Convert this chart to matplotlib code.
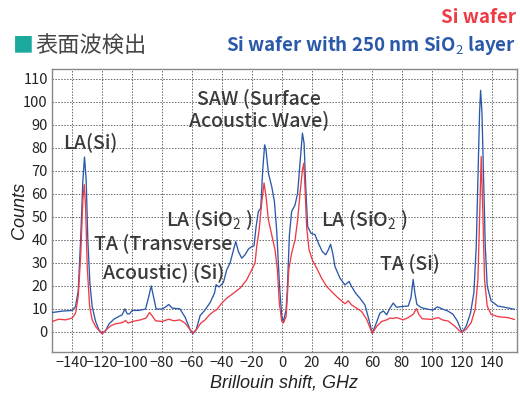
import matplotlib
matplotlib.use("Agg")
import matplotlib.pyplot as plt

plt.rcParams['font.family'] = ['Noto Sans CJK JP', 'DejaVu Sans']
plt.rcParams['mathtext.fontset'] = 'custom'
plt.rcParams['mathtext.rm'] = 'Noto Sans CJK JP'
plt.rcParams['mathtext.bf'] = 'Noto Sans CJK JP:bold'

# Si wafer with 250 nm SiO2 layer (blue)
shift_sio2 = [-153.3, -146.7, -140, -137.8, -136, -134.4, -132.9, -131.8, -130.7, -129.6,
              -128.2, -126.7, -124.4, -122.2, -120, -117.8, -115.6, -112.2, -108.9, -106.7,
              -104.9, -103.3, -101.8, -100, -95.6, -91.1, -88.9, -87.3, -85.8, -84,
              -80, -77.3, -75.6, -73.3, -68.2, -64.7, -61.3, -59.5, -57.3, -54.7,
              -51.3, -48, -45.1, -44.0, -42, -39.1, -36.9, -34.7, -32.4, -30.9,
              -29.1, -26.9, -24.7, -22.4, -20.2, -18.7, -17.3, -15.8, -14.2, -12.9,
              -11.6, -10.7, -9.1, -6.9, -5.1, -3.6, -1.8, -0.2, 0.9, 2.7,
              3.5, 4.2, 4.9, 6.4, 8.7, 10.4, 12, 13.6, 14.7, 15.8,
              17.1, 19.3, 22, 24.2, 26.9, 29.1, 30.9, 32.4, 33.8, 35.3,
              38.7, 42, 44.7, 46.4, 49.1, 52, 55.3, 58, 60.2, 62.4,
              65.3, 67.6, 69.8, 72, 74.2, 76.4, 79.8, 84.2, 86, 87.5,
              88.6, 90, 93, 97.5, 100.8, 103.7, 106.3, 110.8, 114.1, 117,
              120.1, 122.9, 125.8, 128, 129.6, 130.7, 131.8, 132.5, 133.4, 134.5,
              135.6, 136.9, 139.5, 144, 148.4, 155]
counts_sio2 = [8.4, 9.0, 9.3, 11, 18, 40, 66, 76, 66, 40,
               21, 11, 4.5, 0.9, -0.6, 0.4, 3.3, 5.5, 6.7, 7.4,
               10, 7.8, 7.8, 9.3, 9.3, 9.9, 15.4, 20, 15.4, 9.9,
               9.9, 11, 11.9, 10.3, 10, 6.4, 0.9, -0.9, 0.9, 7,
               9.6, 12.7, 16.8, 20.5, 19.5, 21.5, 27, 29.9, 35.7, 39.3,
               34.9, 32, 33.5, 36, 37.1, 37.4, 45.8, 52.3, 53.8, 70.4,
               81.3, 79.1, 69, 63.2, 56.7, 44.3, 21.2, 6.7, 4.5, 9.6,
               18, 30, 42, 52.3, 55.2, 60.3, 73.3, 86.4, 82, 63.2,
               45.8, 42.9, 42.2, 38.6, 34.9, 33.5, 35.7, 38.1, 34.2, 28.4,
               23.3, 20.4, 21.9, 19.7, 16.8, 14.6, 11.7, 5.2, -0.6, 3,
               8.1, 9.1, 7.4, 10.3, 12.5, 10.7, 11, 11.2, 14.8, 22.8,
               17, 11.9, 10.5, 9.8, 9.5, 10.9, 10.1, 9, 7.6, 4.7,
               -0.3, 2.5, 8.3, 17, 37.3, 66.3, 95.3, 105, 95.3, 66.3,
               37.3, 19.9, 13.4, 11.2, 10.7, 9.8]

# Si wafer (red)
shift_si = [-153.3, -149, -144.4, -140, -137.8, -136, -134.4, -132.9, -132, -131.1,
            -130, -128.4, -126.7, -124.4, -122.2, -120, -117.8, -114.4, -111.1, -106.7,
            -104.4, -102.7, -100, -94.4, -90.7, -88.4, -86.7, -84.4, -80, -75.6,
            -72.2, -68.2, -64.7, -61.3, -59.5, -56.9, -54.2, -51.3, -48.4, -45.8,
            -43.6, -40.2, -36.9, -32.4, -28, -23.6, -20.2, -18, -16.9, -15.3,
            -13.6, -12, -10.7, -9.1, -6.9, -4.7, -3.1, -1.8, -0.2, 0.9,
            2.7, 3.5, 4.5, 6.4, 8.7, 10.4, 12, 13.6, 14.5, 15.3,
            16.4, 18, 20.2, 23.1, 26.4, 29.8, 33.1, 37.6, 42, 44.2,
            46.4, 49.8, 53.1, 56.4, 60.2, 63.1, 66.4, 69.8, 72, 74.2,
            76.4, 80.9, 84.2, 87.5, 89.7, 91.3, 93.5, 99.7, 104.1, 107.4,
            110.8, 115.2, 119.6, 122.9, 126.2, 128.9, 130.7, 131.8, 132.9, 134,
            135.1, 136.9, 139.5, 144, 150.6, 155]
counts_si = [4.5, 5.5, 5.2, 6, 8.1, 15.4, 32.7, 57.4, 64, 54.5,
             28.4, 11, 5.2, 2.3, 0.6, -0.9, 0.6, 2.6, 3.5, 4,
             4.9, 3.8, 4.5, 5.2, 6, 8.4, 7, 4.8, 4.5, 5.5,
             4.8, 5.2, 3.8, 0.9, -0.6, 1.2, 3.8, 5.2, 7.4, 8.8,
             9.6, 12.5, 14.6, 16.8, 19, 22.6, 27, 29.9, 37.1, 44.3,
             56, 64.7, 58.8, 48.7, 42.2, 35.7, 27, 12.5, 4.5, 3.8,
             6.7, 15, 27, 34.2, 40, 48.7, 60.3, 70.4, 73.3, 63.2,
             45.8, 35.7, 31.3, 27.7, 23.3, 19.7, 17.5, 14.6, 12.2, 13.5,
             11.7, 10.3, 8.8, 5.5, -0.6, 2.3, 4.5, 5.2, 6, 5.8,
             6.2, 5.2, 6.2, 7.6, 10.1, 7.6, 5.7, 5.4, 6.2, 5.1,
             4.7, 2.5, -0.3, 1.1, 4, 9.8, 22.8, 48.9, 76.2, 51.6,
             22.8, 11.2, 7.6, 6.6, 6.2, 5.4]

x_ticks = list(range(-140, 141, 20))
y_ticks = list(range(0, 111, 10))

RED = '#ee3b46'
BLUE = '#2b59aa'
TEAL = '#1aa99c'
TXT = '#3a3a3a'

fig = plt.figure(figsize=(5.2, 3.94), dpi=100)
ax = fig.add_axes([0.1, 0.107, 0.894, 0.718])

ax.plot(shift_sio2, counts_sio2, color=BLUE, lw=0.95, zorder=3)
ax.plot(shift_si, counts_si, color=RED, lw=0.95, zorder=4)

ax.set_xlim(-153.5, 156.7)
ax.set_ylim(-8.7, 114.3)
ax.set_xticks(x_ticks)
ax.set_yticks(y_ticks)
ax.tick_params(length=0, labelsize=10.5, labelcolor='#222222', pad=3)
ax.grid(True, linestyle=(0, (1.5, 1.5)), color='#666666', lw=0.7)
for s in ax.spines.values():
    s.set_color('#888888')
    s.set_linewidth(1.0)

ax.set_xlabel('Brillouin shift, GHz', fontsize=13, style='italic', color='#222222',
              family='Liberation Sans', va='center')
ax.xaxis.set_label_coords(0.5, -0.11)
ax.set_ylabel('Counts', fontsize=13, style='italic', color='#222222',
              family='Liberation Sans', va='center')
ax.yaxis.set_label_coords(-0.069, 0.5)

# annotations
kw = dict(fontsize=14, color=TXT, ha='center', va='center', fontweight='medium')
ax.text(-128, 82.5, 'LA(Si)', **kw)
ax.text(-15.3, 101.6, 'SAW (Surface', **kw)
ax.text(-15.3, 92.2, 'Acoustic Wave)', **kw)
ax.text(-48.6, 49, r'LA (SiO$_2$ )', **kw)
ax.text(54.5, 49, r'LA (SiO$_2$ )', **kw)
ax.text(-79, 38.5, 'TA (Transverse', **kw)
ax.text(-79, 26, 'Acoustic) (Si)', **kw)
ax.text(85.6, 30, 'TA (Si)', **kw)

# header
fig.text(0.024, 0.885, '■', fontsize=15, color=TEAL, va='center', ha='left')
fig.text(0.068, 0.885, '表面波検出', fontsize=16, color='#444444', va='center', ha='left')
fig.text(0.993, 0.955, 'Si wafer', fontsize=13.5, color=RED, fontweight='bold', ha='right', va='center')
fig.text(0.993, 0.885, r'Si wafer with 250 nm SiO$_2$ layer', fontsize=13.5, color=BLUE,
         fontweight='bold', ha='right', va='center')

fig.savefig('out.png', dpi=100)
